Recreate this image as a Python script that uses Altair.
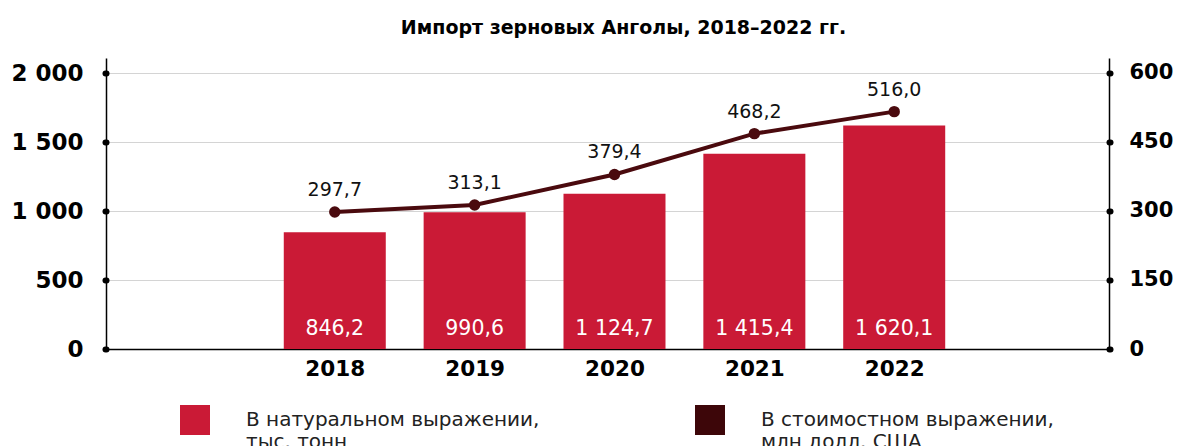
import altair as alt
import pandas as pd

years = [2018, 2019, 2020, 2021, 2022]
volume = [846.2, 990.6, 1124.7, 1415.4, 1620.1]
value = [297.7, 313.1, 379.4, 468.2, 516.0]
series_names = ["В натуральном выражении,|тыс. тонн", "В стоимостном выражении,|млн долл. США"]
left_ticks = [0, 500, 1000, 1500, 2000]
right_ticks = [0, 150, 300, 450, 600]
title_text = "Импорт зерновых Анголы, 2018–2022 гг."

RED = "#CA1A36"
MAROON = "#4A0A0E"
LEG_MAROON = "#3D0609"
FONT = "DejaVu Sans"


def ru(v, dec=1):
    s = f"{v:,.{dec}f}"
    return s.replace(",", " ").replace(".", ",")


df = pd.DataFrame({
    "year": years,
    "volume": volume,
    "value": value,
    "vol_label": [ru(v) for v in volume],
    "val_label": [ru(v) for v in value],
    "series": [series_names[0]] * len(years),
    "zero": [0] * len(years),
})

x_enc = alt.X("year:Q",
              scale=alt.Scale(domain=[2016.4, 2023.5], nice=False, zero=False),
              axis=alt.Axis(values=years, format="d", title=None, grid=False,
                            ticks=False, domain=True, domainColor="#000", domainWidth=1.5,
                            labelFont=FONT, labelFontSize=21.5, labelFontWeight="bold",
                            labelColor="#000", labelPadding=9))

yl_scale = alt.Scale(domain=[0, 2108.7], nice=False)
yr_scale = alt.Scale(domain=[0, 632.6], nice=False)

left_axis = alt.Axis(values=left_ticks, title=None, orient="left",
                     labelExpr="replace(format(datum.value, ','), ',', ' ')",
                     grid=True, gridColor="#d4d4d4", gridWidth=1.2,
                     domain=True, domainColor="#000", domainWidth=1.5,
                     ticks=True, tickSize=1, tickWidth=6, tickCap="round", tickColor="#000",
                     labelFont=FONT, labelFontSize=23, labelFontWeight="bold",
                     labelColor="#000", labelPadding=22)
right_axis = alt.Axis(values=right_ticks, title=None, orient="right",
                      grid=False, domain=True, domainColor="#000", domainWidth=1.5,
                      ticks=True, tickSize=1, tickWidth=6, tickCap="round", tickColor="#000",
                      labelFont=FONT, labelFontSize=21, labelFontWeight="bold",
                      labelColor="#000", labelPadding=19)

base = alt.Chart(df)

bars = base.mark_bar(size=102).encode(
    x=x_enc,
    y=alt.Y("volume:Q", scale=yl_scale, axis=left_axis),
    color=alt.Color("series:N",
                    scale=alt.Scale(domain=series_names, range=[RED, LEG_MAROON]),
                    legend=alt.Legend(title=None, orient="none", legendX=74, legendY=347,
                                      direction="horizontal", columns=2,
                                      symbolType="square", symbolSize=900,
                                      symbolStrokeWidth=0, symbolOpacity=1,
                                      labelExpr="split(datum.label, '|')",
                                      labelFont=FONT, labelFontSize=20,
                                      labelFontWeight=400, labelColor="#222",
                                      labelOffset=36, labelLimit=450,
                                      columnPadding=155)),
)

bar_labels = base.mark_text(color="white", font=FONT, fontSize=20.5, fontWeight=400,
                            baseline="bottom", dy=-10).encode(
    x=alt.X("year:Q"),
    y=alt.Y("zero:Q", scale=yl_scale, axis=left_axis),
    text="vol_label:N",
)

line = base.mark_line(color=MAROON, strokeWidth=4).encode(
    x=alt.X("year:Q"),
    y=alt.Y("value:Q", scale=yr_scale, axis=right_axis),
)
pts = base.mark_circle(color=MAROON, size=130, opacity=1).encode(
    x=alt.X("year:Q"),
    y=alt.Y("value:Q", scale=yr_scale, axis=right_axis),
)
line_labels = base.mark_text(color="#111", font=FONT, fontSize=19, fontWeight=400,
                             baseline="bottom", dy=-12).encode(
    x=alt.X("year:Q"),
    y=alt.Y("value:Q", scale=yr_scale, axis=right_axis),
    text="val_label:N",
)

left = alt.layer(bars, bar_labels)
right = alt.layer(line, pts, line_labels)

chart = alt.layer(left, right).resolve_scale(y="independent").properties(
    width=1003, height=291,
    title=alt.TitleParams(title_text, font=FONT, fontSize=19, fontWeight="bold",
                          color="#000", anchor="middle", dx=16, offset=20),
    autosize=alt.AutoSizeParams(type="none"),
    padding={"left": 98, "top": 50, "right": 65, "bottom": 110},
).configure_view(stroke=None)

chart.save("out.html", embed_options={"renderer": "svg", "actions": False})
